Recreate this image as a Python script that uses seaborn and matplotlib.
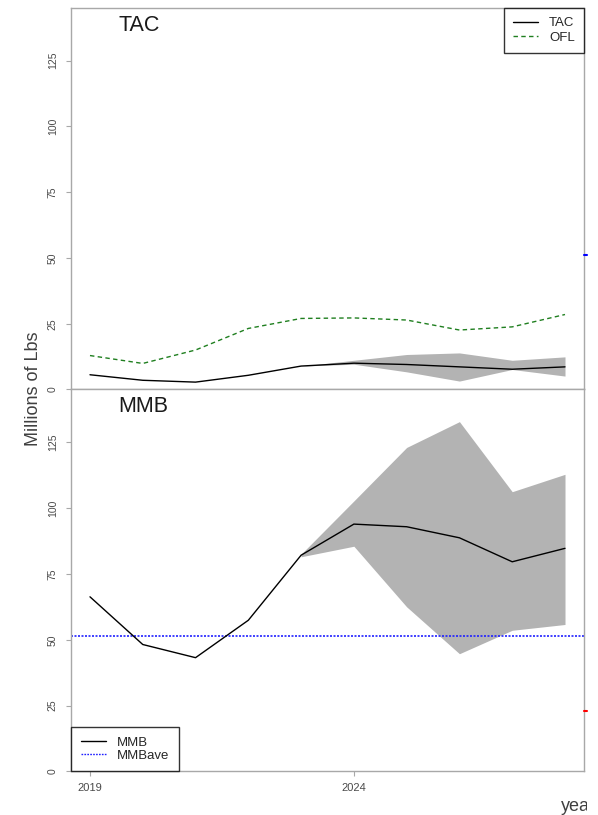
import matplotlib
matplotlib.use("Agg")
import matplotlib.pyplot as plt
import seaborn as sns
import pandas as pd
from matplotlib.lines import Line2D
from matplotlib.transforms import Bbox, TransformedBbox

# ---- data (millions of lbs) ----
years = [2019, 2020, 2021, 2022, 2023, 2024, 2025, 2026, 2027, 2028]
tac = [5.6, 3.5, 2.8, 5.4, 8.9, 10.0, 9.5, 8.6, 7.7, 8.6]
ofl = [12.9, 9.9, 15.0, 23.2, 27.0, 27.2, 26.4, 22.6, 23.8, 28.5]
mmb = [66.3, 48.2, 43.2, 57.4, 82.1, 93.9, 92.9, 88.7, 79.6, 84.7]

proj_years = [2023, 2024, 2025, 2026, 2027, 2028]
tac_lo = [8.9, 9.6, 6.7, 3.2, 7.6, 5.1]
tac_hi = [8.9, 11.1, 13.3, 13.9, 11.1, 12.4]
mmb_lo = [81.5, 85.5, 62.5, 44.7, 53.6, 55.8]
mmb_hi = [82.5, 102.7, 123.0, 132.8, 106.2, 112.8]

mmb_ave = 51.3
mmb_ref = 23.1

y_ticks = [0, 25, 50, 75, 100, 125]
x_ticks = [2019, 2024]

hist = pd.DataFrame({"year": years, "TAC": tac, "OFL": ofl, "MMB": mmb})
proj = pd.DataFrame({"year": proj_years, "tac_lo": tac_lo, "tac_hi": tac_hi,
                     "mmb_lo": mmb_lo, "mmb_hi": mmb_hi})

sns.set_style("white")
plt.rcParams["font.family"] = ["Liberation Sans", "DejaVu Sans"]

SPINE = "#a8a8a8"
TXT = "#4a4a4a"
BAND = "#b3b3b3"
OFL_COL = "#1f7f1f"
AVE_COL = "#2020ff"

fig = plt.figure(figsize=(5.98, 8.15), dpi=100)
ax_top = fig.add_axes([0.1187, 0.5221, 0.8579, 0.4681])
ax_bot = fig.add_axes([0.1187, 0.0534, 0.8579, 0.4687])

xlim = (2018.64, 2028.36)
ylim = (0, 145)

# ---- TAC panel ----
ax_top.fill_between(proj["year"], proj["tac_lo"], proj["tac_hi"],
                    color=BAND, linewidth=0, zorder=1)
sns.lineplot(data=hist, x="year", y="TAC", ax=ax_top, color="black",
             linewidth=1.0, errorbar=None, zorder=3)
sns.lineplot(data=hist, x="year", y="OFL", ax=ax_top, color=OFL_COL,
             linewidth=1.0, errorbar=None, zorder=3)
ax_top.lines[-1].set_dashes((3.2, 2.4))
ax_top.axhline(mmb_ave, xmin=1.0, xmax=1.005, color="blue", lw=1.5,
               clip_on=False, zorder=5)

ax_top.text(0.092, 0.955, "TAC", transform=ax_top.transAxes, fontsize=15.5,
            color="#1a1a1a", ha="left", va="center")

top_handles = [Line2D([], [], color="black", lw=1.0),
               Line2D([], [], color=OFL_COL, lw=1.0, dashes=(3.2, 2.4))]
leg = ax_top.legend(top_handles, ["TAC", "OFL"], loc="upper right",
                    borderaxespad=0, fontsize=9.5, frameon=True,
                    fancybox=False, handlelength=1.9, handletextpad=0.8,
                    labelspacing=0.15, borderpad=0.7)
leg.get_frame().set_edgecolor("black")
leg.get_frame().set_linewidth(1.0)

# ---- MMB panel ----
ax_bot.fill_between(proj["year"], proj["mmb_lo"], proj["mmb_hi"],
                    color=BAND, linewidth=0, zorder=1)
sns.lineplot(data=hist, x="year", y="MMB", ax=ax_bot, color="black",
             linewidth=1.0, errorbar=None, zorder=3)
ax_bot.axhline(mmb_ave, color=AVE_COL, lw=1.2, linestyle=(0, (1.2, 0.9)),
               zorder=2)
ax_bot.axhline(mmb_ref, xmin=1.0, xmax=1.005, color="red", lw=1.5,
               clip_on=False, zorder=5)

ax_bot.text(0.092, 0.955, "MMB", transform=ax_bot.transAxes, fontsize=15.5,
            color="#1a1a1a", ha="left", va="center")

bot_handles = [Line2D([], [], color="black", lw=1.0),
               Line2D([], [], color=AVE_COL, lw=1.0,
                      linestyle=(0, (1.2, 0.9)))]
leg2 = ax_bot.legend(bot_handles, ["MMB", "MMBave"], loc="lower left",
                     borderaxespad=0, fontsize=9.5, frameon=True,
                     fancybox=False, handlelength=1.9, handletextpad=0.8,
                     labelspacing=0.05, borderpad=0.75)
leg2.get_frame().set_edgecolor("black")
leg2.get_frame().set_linewidth(1.0)

# ---- shared axis styling ----
for ax in (ax_top, ax_bot):
    ax.set_xlim(*xlim)
    ax.set_ylim(*ylim)
    ax.set_xlabel("")
    ax.set_ylabel("")
    ax.set_yticks(y_ticks)
    ax.set_yticklabels([str(v) for v in y_ticks], rotation=90, va="center")
    ax.tick_params(axis="y", direction="out", length=3.5, width=0.8,
                   color=SPINE, labelcolor=TXT, labelsize=7.5, pad=6, left=True)
    for s in ax.spines.values():
        s.set_color(SPINE)
        s.set_linewidth(1.0)
        s.set_visible(True)

ax_top.set_xticks([])
ax_bot.set_xticks(x_ticks)
ax_bot.set_xticklabels([str(v) for v in x_ticks])
ax_bot.tick_params(axis="x", direction="out", length=3.5, width=0.8,
                   color=SPINE, labelcolor=TXT, labelsize=8, pad=5, bottom=True)

fig.text(0.056, 0.5227, "Millions of Lbs", rotation=90, fontsize=13,
         color="#404040", ha="center", va="center")
xl = fig.text(561 / 598, 0.0043, "year", fontsize=13, color="#404040",
              ha="left", va="baseline")
xl.set_clip_box(TransformedBbox(Bbox([[0, 0], [587 / 598, 1]]),
                                fig.transFigure))
xl.set_clip_on(True)

fig.savefig("out.png", dpi=100)
